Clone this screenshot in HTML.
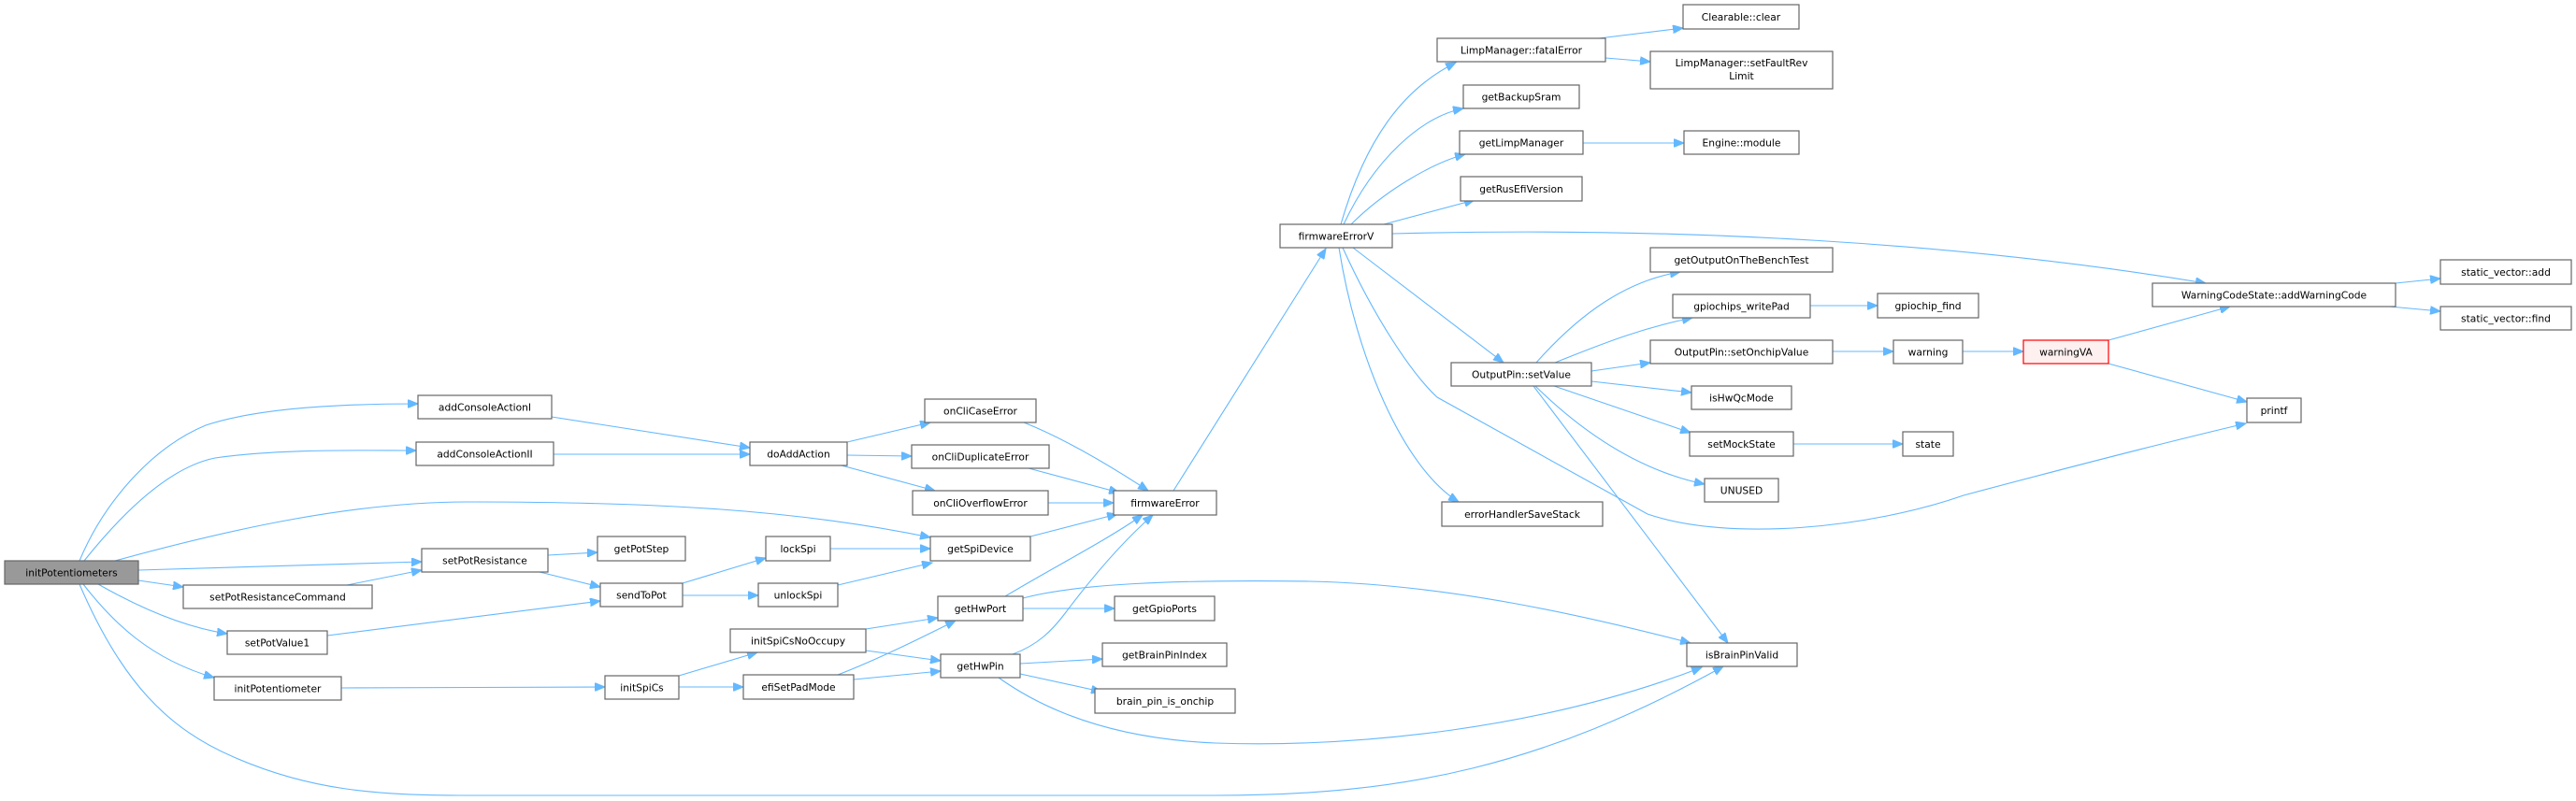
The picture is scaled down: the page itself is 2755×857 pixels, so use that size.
<!DOCTYPE html>
<html><head><meta charset="utf-8"><style>
html,body{margin:0;padding:0;background:#fff;}
svg{display:block;}
text{font-family:"DejaVu Sans","Liberation Sans",sans-serif;font-size:10.7px;fill:#000;}
.n{fill:#fff;stroke:#666;stroke-width:1.2;}
.e{fill:none;stroke:#63b8ff;stroke-width:1.1;marker-end:url(#a);}
</style></head><body>
<svg width="2755" height="857" viewBox="0 0 2755 857" xmlns="http://www.w3.org/2000/svg">
<defs><marker id="a" markerUnits="userSpaceOnUse" markerWidth="12" markerHeight="9" refX="11" refY="4.5" orient="auto"><path d="M0,0 L11,4.5 L0,9 z" fill="#63b8ff" stroke="#63b8ff"/></marker></defs>
<g>
<path class="e" d="M85,600 C110,540 160,480 220,455 C280,435 380,432 447,432"/>
<path class="e" d="M90,600 C130,550 180,500 230,490 C300,480 380,482 445,482"/>
<path class="e" d="M123,600 C250,565 380,537 500,537 C700,537 850,545 995,575"/>
<path class="e" d="M148,610 L451,601"/>
<path class="e" d="M148,621 L196,628"/>
<path class="e" d="M371,626 L451,610"/>
<path class="e" d="M105,625 C140,645 190,670 243,678"/>
<path class="e" d="M89,625 C120,665 160,705 229,725"/>
<path class="e" d="M85,625 C130,730 180,780 250,810 C330,845 400,851 500,851 L1300,851 C1500,851 1650,820 1843,713"/>
<path class="e" d="M590,446 L802,479"/>
<path class="e" d="M592,486 L802,486"/>
<path class="e" d="M906,473 L995,452"/>
<path class="e" d="M906,487 L975,488"/>
<path class="e" d="M900,498 L1000,525"/>
<path class="e" d="M1095,452 C1140,470 1190,500 1228,525"/>
<path class="e" d="M1100,501 L1197,527"/>
<path class="e" d="M1121,538 L1191,538"/>
<path class="e" d="M1102,574 L1195,550"/>
<path class="e" d="M1075,638 C1130,605 1180,580 1222,551"/>
<path class="e" d="M1083,700 C1110,690 1125,675 1140,655 C1170,615 1200,580 1233,551"/>
<path class="e" d="M1255,525 L1418,266"/>
<path class="e" d="M586,594 L639,591"/>
<path class="e" d="M577,612 L642,628"/>
<path class="e" d="M350,680 L642,643"/>
<path class="e" d="M730,624 L819,597"/>
<path class="e" d="M730,637 L811,637"/>
<path class="e" d="M888,587 L995,587"/>
<path class="e" d="M896,626 L997,602"/>
<path class="e" d="M365,736 L647,735"/>
<path class="e" d="M726,723 L810,698"/>
<path class="e" d="M726,735 L795,735"/>
<path class="e" d="M926,673 L1003,661"/>
<path class="e" d="M926,696 L1006,707"/>
<path class="e" d="M896,722 C940,705 990,680 1022,664"/>
<path class="e" d="M913,727 L1006,718"/>
<path class="e" d="M1094,651 L1192,651"/>
<path class="e" d="M1094,640 C1150,625 1250,620 1400,622 C1550,625 1700,660 1808,688"/>
<path class="e" d="M1091,710 L1179,705"/>
<path class="e" d="M1091,721 L1178,740"/>
<path class="e" d="M1068,725 C1110,755 1180,790 1300,795 C1450,800 1650,780 1820,714"/>
<path class="e" d="M1434,240 C1460,150 1500,95 1557,67"/>
<path class="e" d="M1437,240 C1470,170 1520,125 1565,116"/>
<path class="e" d="M1445,240 C1480,205 1530,175 1567,165"/>
<path class="e" d="M1480,240 L1577,214"/>
<path class="e" d="M1489,250 C1800,242 2100,260 2359,303"/>
<path class="e" d="M1447,265 L1608,388"/>
<path class="e" d="M1432,265 C1450,380 1500,500 1560,537"/>
<path class="e" d="M1436,265 C1470,340 1510,400 1537,425 L1762,550 C1850,580 2000,565 2100,530 C2250,490 2330,470 2402,453"/>
<path class="e" d="M1643,388 C1690,335 1740,300 1797,291"/>
<path class="e" d="M1663,388 C1720,365 1760,350 1810,340"/>
<path class="e" d="M1702,397 L1765,388"/>
<path class="e" d="M1702,408 L1809,420"/>
<path class="e" d="M1662,413 L1808,463"/>
<path class="e" d="M1642,413 C1700,470 1760,505 1823,518"/>
<path class="e" d="M1640,413 L1848,688"/>
<path class="e" d="M1710,41 L1800,30"/>
<path class="e" d="M1717,62 L1765,66"/>
<path class="e" d="M1693,153 L1801,153"/>
<path class="e" d="M1936,327 L2008,327"/>
<path class="e" d="M1960,376 L2025,376"/>
<path class="e" d="M2099,376 L2164,376"/>
<path class="e" d="M2255,364 L2385,328"/>
<path class="e" d="M2255,389 L2403,430"/>
<path class="e" d="M1918,475 L2035,475"/>
<path class="e" d="M2562,303 L2610,298"/>
<path class="e" d="M2556,328 L2610,333"/>
</g>
<g text-anchor="middle">
<rect x="5" y="600" width="143" height="25" fill="#999" stroke="#666" stroke-width="1.2"/><text x="76.5" y="616.5">initPotentiometers</text>
<rect class="n" x="447" y="423" width="143" height="25"/><text x="518.5" y="439.5">addConsoleActionI</text>
<rect class="n" x="445" y="473" width="147" height="25"/><text x="518.5" y="489.5">addConsoleActionII</text>
<rect class="n" x="451" y="587" width="135" height="25"/><text x="518.5" y="603.5">setPotResistance</text>
<rect class="n" x="196" y="626" width="202" height="25"/><text x="297" y="642.5">setPotResistanceCommand</text>
<rect class="n" x="243" y="675" width="107" height="25"/><text x="296.5" y="691.5">setPotValue1</text>
<rect class="n" x="229" y="724" width="136" height="25"/><text x="297" y="740.5">initPotentiometer</text>
<rect class="n" x="639" y="574" width="94" height="26"/><text x="686" y="591">getPotStep</text>
<rect class="n" x="642" y="624" width="88" height="25"/><text x="686" y="640.5">sendToPot</text>
<rect class="n" x="647" y="723" width="79" height="25"/><text x="686.5" y="739.5">initSpiCs</text>
<rect class="n" x="802" y="473" width="104" height="25"/><text x="854" y="489.5">doAddAction</text>
<rect class="n" x="989" y="427" width="119" height="25"/><text x="1048.5" y="443.5">onCliCaseError</text>
<rect class="n" x="975" y="476" width="147" height="25"/><text x="1048.5" y="492.5">onCliDuplicateError</text>
<rect class="n" x="976" y="525" width="145" height="26"/><text x="1048.5" y="542">onCliOverflowError</text>
<rect class="n" x="1191" y="525" width="110" height="26"/><text x="1246" y="542">firmwareError</text>
<rect class="n" x="819" y="574" width="69" height="26"/><text x="853.5" y="591">lockSpi</text>
<rect class="n" x="995" y="574" width="107" height="26"/><text x="1048.5" y="591">getSpiDevice</text>
<rect class="n" x="811" y="624" width="85" height="25"/><text x="853.5" y="640.5">unlockSpi</text>
<rect class="n" x="1003" y="638" width="91" height="26"/><text x="1048.5" y="655">getHwPort</text>
<rect class="n" x="1192" y="638" width="107" height="26"/><text x="1245.5" y="655">getGpioPorts</text>
<rect class="n" x="781" y="673" width="145" height="25"/><text x="853.5" y="689.5">initSpiCsNoOccupy</text>
<rect class="n" x="1006" y="700" width="85" height="25"/><text x="1048.5" y="716.5">getHwPin</text>
<rect class="n" x="1179" y="688" width="133" height="25"/><text x="1245.5" y="704.5">getBrainPinIndex</text>
<rect class="n" x="1171" y="737" width="150" height="26"/><text x="1246" y="754">brain_pin_is_onchip</text>
<rect class="n" x="795" y="722" width="118" height="26"/><text x="854" y="739">efiSetPadMode</text>
<rect class="n" x="1800" y="5" width="124" height="26"/><text x="1862" y="22">Clearable::clear</text>
<rect class="n" x="1537" y="41" width="180" height="25"/><text x="1627" y="57.5">LimpManager::fatalError</text>
<rect class="n" x="1765" y="55" width="195" height="40"/><text x="1862.5" y="71">LimpManager::setFaultRev</text><text x="1862.5" y="85">Limit</text>
<rect class="n" x="1565" y="91" width="124" height="25"/><text x="1627" y="107.5">getBackupSram</text>
<rect class="n" x="1561" y="140" width="132" height="25"/><text x="1627" y="156.5">getLimpManager</text>
<rect class="n" x="1801" y="140" width="123" height="25"/><text x="1862.5" y="156.5">Engine::module</text>
<rect class="n" x="1562" y="189" width="130" height="26"/><text x="1627" y="206">getRusEfiVersion</text>
<rect class="n" x="1369" y="240" width="120" height="25"/><text x="1429" y="256.5">firmwareErrorV</text>
<rect class="n" x="1765" y="265" width="195" height="26"/><text x="1862.5" y="282">getOutputOnTheBenchTest</text>
<rect class="n" x="1789" y="315" width="147" height="25"/><text x="1862.5" y="331.5">gpiochips_writePad</text>
<rect class="n" x="1765" y="364" width="195" height="25"/><text x="1862.5" y="380.5">OutputPin::setOnchipValue</text>
<rect class="n" x="1552" y="388" width="150" height="25"/><text x="1627" y="404.5">OutputPin::setValue</text>
<rect class="n" x="1809" y="413" width="107" height="25"/><text x="1862.5" y="429.5">isHwQcMode</text>
<rect class="n" x="1807" y="462" width="111" height="26"/><text x="1862.5" y="479">setMockState</text>
<rect class="n" x="1823" y="512" width="79" height="25"/><text x="1862.5" y="528.5">UNUSED</text>
<rect class="n" x="1542" y="537" width="172" height="26"/><text x="1628" y="554">errorHandlerSaveStack</text>
<rect class="n" x="1804" y="688" width="118" height="25"/><text x="1863" y="704.5">isBrainPinValid</text>
<rect class="n" x="2302" y="303" width="260" height="25"/><text x="2432" y="319.5">WarningCodeState::addWarningCode</text>
<rect class="n" x="2610" y="278" width="140" height="26"/><text x="2680" y="295">static_vector::add</text>
<rect class="n" x="2610" y="328" width="140" height="25"/><text x="2680" y="344.5">static_vector::find</text>
<rect class="n" x="2008" y="314" width="108" height="26"/><text x="2062" y="331">gpiochip_find</text>
<rect class="n" x="2025" y="364" width="74" height="25"/><text x="2062" y="380.5">warning</text>
<rect x="2164" y="364" width="91" height="25" fill="#fff0f0" stroke="#f00" stroke-width="1.2"/><text x="2209.5" y="380.5">warningVA</text>
<rect class="n" x="2403" y="426" width="58" height="26"/><text x="2432" y="443">printf</text>
<rect class="n" x="2035" y="462" width="54" height="26"/><text x="2062" y="479">state</text>
</g>
</svg>
</body></html>
